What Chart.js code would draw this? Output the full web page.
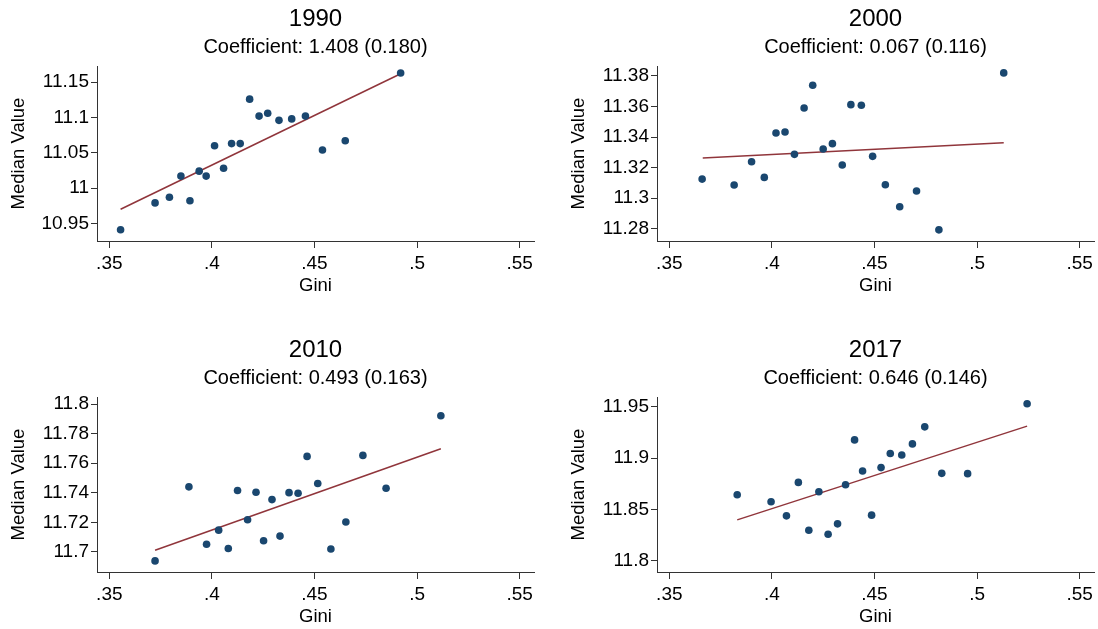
<!DOCTYPE html>
<html><head><meta charset="utf-8">
<script src="https://cdn.jsdelivr.net/npm/chart.js@4.4.0/dist/chart.umd.min.js"></script>
<style>
html,body{margin:0;padding:0;background:#fff;}
body{width:1098px;height:629px;position:relative;overflow:hidden;}
.panel{position:absolute;width:538px;height:298px;}
canvas{display:block;}
</style></head><body>
<div class="panel" style="left:0;top:0"><canvas id="c1990" width="538" height="298"></canvas></div>
<div class="panel" style="left:560px;top:0"><canvas id="c2000" width="538" height="298"></canvas></div>
<div class="panel" style="left:0;top:331px"><canvas id="c2010" width="538" height="298"></canvas></div>
<div class="panel" style="left:560px;top:331px"><canvas id="c2017" width="538" height="298"></canvas></div>
<script>
// ---- data ----
const years = ['1990', '2000', '2010', '2017'];
const coefficients = ['Coefficient: 1.408 (0.180)', 'Coefficient: 0.067 (0.116)', 'Coefficient: 0.493 (0.163)', 'Coefficient: 0.646 (0.146)'];
const xTicks = [0.35, 0.40, 0.45, 0.50, 0.55];

const gini1990 = [0.3555, 0.3723, 0.3793, 0.3849, 0.3893, 0.3938, 0.3972, 0.4013, 0.4057, 0.4096, 0.4138, 0.4184, 0.4230, 0.4272, 0.4327, 0.4389, 0.4456, 0.4539, 0.4650, 0.4920];
const value1990 = [10.941, 10.979, 10.987, 11.017, 10.982, 11.024, 11.017, 11.060, 11.028, 11.063, 11.063, 11.126, 11.102, 11.106, 11.096, 11.098, 11.102, 11.054, 11.067, 11.163];
const fitGini1990 = [0.3555, 0.4920];
const fitValue1990 = [10.970, 11.162];
const yTicks1990 = [10.95, 11.00, 11.05, 11.10, 11.15];

const gini2000 = [0.3660, 0.3816, 0.3901, 0.3963, 0.4020, 0.4064, 0.4110, 0.4157, 0.4199, 0.4250, 0.4295, 0.4343, 0.4385, 0.4436, 0.4491, 0.4553, 0.4623, 0.4705, 0.4814, 0.5130];
const value2000 = [11.3125, 11.3086, 11.3239, 11.3136, 11.3427, 11.3433, 11.3287, 11.3590, 11.3739, 11.3322, 11.3357, 11.3217, 11.3612, 11.3608, 11.3274, 11.3088, 11.2944, 11.3047, 11.2793, 11.3820];
const fitGini2000 = [0.3663, 0.5130];
const fitValue2000 = [11.3263, 11.3363];
const yTicks2000 = [11.28, 11.30, 11.32, 11.34, 11.36, 11.38];

const gini2010 = [0.3723, 0.3888, 0.3974, 0.4033, 0.4080, 0.4125, 0.4174, 0.4215, 0.4252, 0.4293, 0.4332, 0.4376, 0.4420, 0.4464, 0.4516, 0.4580, 0.4653, 0.4736, 0.4849, 0.5116];
const value2010 = [11.6939, 11.7440, 11.7052, 11.7147, 11.7023, 11.7415, 11.7218, 11.7404, 11.7075, 11.7354, 11.7107, 11.7401, 11.7397, 11.7646, 11.7463, 11.7020, 11.7202, 11.7653, 11.7431, 11.7921];
const fitGini2010 = [0.3723, 0.5116];
const fitValue2010 = [11.7011, 11.7698];
const yTicks2010 = [11.70, 11.72, 11.74, 11.76, 11.78, 11.80];

const gini2017 = [0.3831, 0.3996, 0.4071, 0.4129, 0.4180, 0.4229, 0.4274, 0.4320, 0.4359, 0.4403, 0.4442, 0.4486, 0.4532, 0.4577, 0.4633, 0.4685, 0.4745, 0.4828, 0.4954, 0.5244];
const value2017 = [11.8642, 11.8574, 11.8437, 11.8763, 11.8297, 11.8672, 11.8258, 11.8359, 11.8740, 11.9177, 11.8874, 11.8444, 11.8907, 11.9044, 11.9030, 11.9138, 11.9304, 11.8851, 11.8848, 11.9529];
const fitGini2017 = [0.3831, 0.5244];
const fitValue2017 = [11.8398, 11.9311];
const yTicks2017 = [11.80, 11.85, 11.90, 11.95];

// ---- drawing ----
const F = "'Liberation Sans', Arial, sans-serif";
const NAVY = '#1a476f';
const MAROON = '#90353b';
const AXIS = '#333333';

function fmt(v) {
  return String(+(+v).toFixed(3)).replace(/^0\./, '.');
}
function pts(xs, ys) { return xs.map((x, i) => ({x: x, y: ys[i]})); }

function makePanel(id, idx, xs, ys, fx, fy, yTicks, yMin, yMax) {
  new Chart(document.getElementById(id), {
    type: 'scatter',
    data: {
      datasets: [
        { type: 'scatter', data: pts(xs, ys), backgroundColor: NAVY, borderColor: NAVY,
          pointRadius: 3.8, pointBorderWidth: 0, pointHoverRadius: 3.8 },
        { type: 'line', data: pts(fx, fy), borderColor: MAROON, borderWidth: 1.5,
          pointRadius: 0, fill: false, tension: 0 }
      ]
    },
    options: {
      responsive: false, animation: false, devicePixelRatio: 1,
      events: [],
      layout: { padding: { top: 0, right: 4, bottom: 0, left: 0 } },
      plugins: {
        legend: { display: false }, tooltip: { enabled: false },
        title: { display: true, text: years[idx], fullSize: false, color: '#000',
          font: { family: F, size: 24, weight: 'normal' }, padding: { top: 5.1, bottom: 1.6 } },
        subtitle: { display: true, text: coefficients[idx], fullSize: false, color: '#000',
          font: { family: F, size: 20, weight: 'normal' }, padding: { top: 0, bottom: 6.5 } }
      },
      scales: {
        x: {
          type: 'linear', min: 0.344, max: 0.557,
          afterBuildTicks: s => { s.ticks = xTicks.map(v => ({ value: v })); },
          afterFit: s => { s.height = 57; },
          ticks: { callback: v => fmt(v), color: '#000', font: { family: F, size: 19 }, padding: 4, maxRotation: 0, autoSkip: false },
          grid: { drawOnChartArea: false, drawTicks: true, tickLength: 7, color: AXIS, lineWidth: 1 },
          border: { display: true, color: AXIS, width: 1 },
          title: { display: true, text: 'Gini', color: '#000', font: { family: F, size: 18.5 }, padding: { top: 0, bottom: 0.5 } }
        },
        y: {
          type: 'linear', min: yMin, max: yMax,
          afterBuildTicks: s => { s.ticks = yTicks.map(v => ({ value: v })); },
          afterFit: s => { s.width = 97; },
          ticks: { callback: v => fmt(v), color: '#000', font: { family: F, size: 19 }, padding: 2, autoSkip: false },
          grid: { drawOnChartArea: false, drawTicks: true, tickLength: 6, color: AXIS, lineWidth: 1 },
          border: { display: true, color: AXIS, width: 1 },
          title: { display: true, text: 'Median Value', color: '#000', font: { family: F, size: 18.5 }, padding: { top: 8, bottom: 0 } }
        }
      }
    }
  });
}

makePanel('c1990', 0, gini1990, value1990, fitGini1990, fitValue1990, yTicks1990, 10.925, 11.173);
makePanel('c2000', 1, gini2000, value2000, fitGini2000, fitValue2000, yTicks2000, 11.272, 11.3865);
makePanel('c2010', 2, gini2010, value2010, fitGini2010, fitValue2010, yTicks2010, 11.6864, 11.8048);
makePanel('c2017', 3, gini2017, value2017, fitGini2017, fitValue2017, yTicks2017, 11.789, 11.9595);
</script>
</body></html>
